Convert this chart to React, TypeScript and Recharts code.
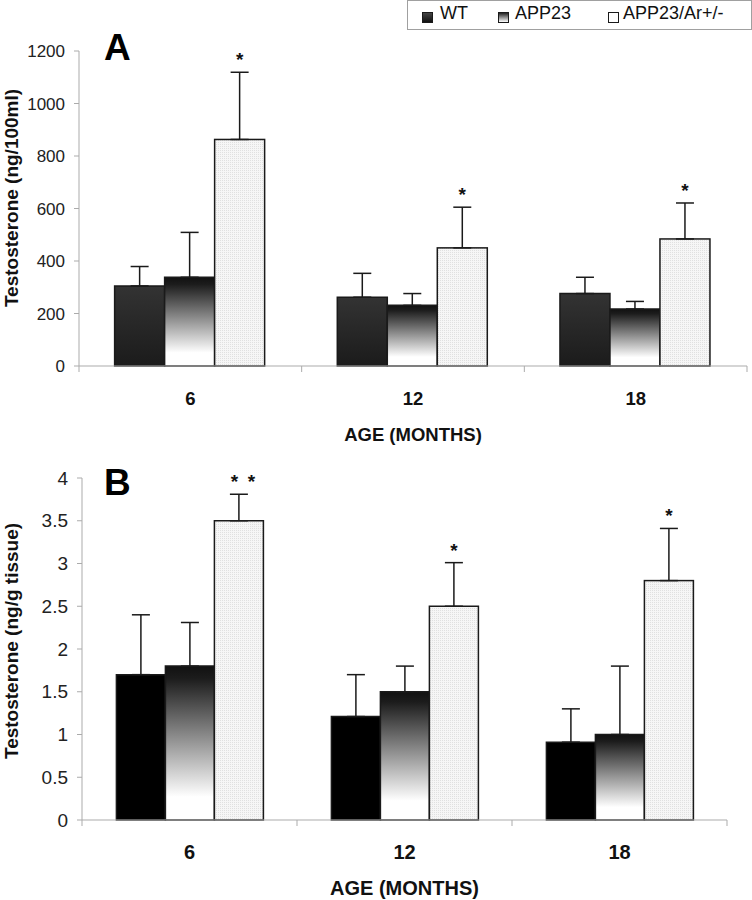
import { BarChart, Bar, XAxis, YAxis, ErrorBar } from "recharts";

const AGES = ["6", "12", "18"];
const GROUPS = ["WT", "APP23", "APP23/Ar+/-"];

// A: serum testosterone (ng/100ml), mean + upper error
const SERUM_WT = [305, 262, 276];
const SERUM_WT_ERR = [74, 91, 62];
const SERUM_APP = [338, 231, 217];
const SERUM_APP_ERR = [171, 45, 29];
const SERUM_AR = [863, 450, 484];
const SERUM_AR_ERR = [256, 155, 137];
const SERUM_STARS = ["*", "*", "*"];
const SERUM_TICKS = [0, 200, 400, 600, 800, 1000, 1200];

// B: testicular testosterone (ng/g tissue)
const TISSUE_WT = [1.7, 1.21, 0.91];
const TISSUE_WT_ERR = [0.7, 0.49, 0.39];
const TISSUE_APP = [1.8, 1.5, 1.0];
const TISSUE_APP_ERR = [0.51, 0.3, 0.8];
const TISSUE_AR = [3.5, 2.5, 2.8];
const TISSUE_AR_ERR = [0.31, 0.51, 0.61];
const TISSUE_STARS = ["**", "*", "*"];
const TISSUE_TICKS = [0, 0.5, 1, 1.5, 2, 2.5, 3, 3.5, 4];

const FONT = "'Liberation Sans', Arial, sans-serif";
const AXIS = "#ababab";
const INK = "#1a1a1a";

const rows = (wt: number[], wtE: number[], app: number[], appE: number[], ar: number[], arE: number[], stars: string[]) =>
  AGES.map((age, i) => ({
    age,
    wt: wt[i], wtErr: wtE[i],
    app: app[i], appErr: appE[i],
    ar: ar[i], arErr: arE[i],
    star: stars[i],
  }));

const serumData = rows(SERUM_WT, SERUM_WT_ERR, SERUM_APP, SERUM_APP_ERR, SERUM_AR, SERUM_AR_ERR, SERUM_STARS);
const tissueData = rows(TISSUE_WT, TISSUE_WT_ERR, TISSUE_APP, TISSUE_APP_ERR, TISSUE_AR, TISSUE_AR_ERR, TISSUE_STARS);

// light stippled bar with the significance stars above its error cap
const ArShape = (props: any) => {
  const { x, y, width, height, payload } = props;
  const perUnit = height / payload.ar;
  const capY = y - payload.arErr * perUnit;
  const stars = payload.star.split("");
  const cx = x + width / 2;
  return (
    <g>
      <rect x={x} y={y} width={width} height={height} fill="url(#stipple)" stroke={INK} strokeWidth={1.5} />
      {stars.map((s: string, i: number) => (
        <text key={i} x={cx + 4 * (stars.length - 1) + (i - (stars.length - 1) / 2) * 17} y={capY - 6}
          textAnchor="middle" fontSize={19} fontWeight="bold" fill="#111" fontFamily={FONT}>
          {s}
        </text>
      ))}
    </g>
  );
};

const AgeTick = (props: any) => {
  const { x, y, payload, index, fontSize, plotWidth } = props;
  const half = payload.offset ?? plotWidth / AGES.length / 2;
  return (
    <g>
      <line x1={x - half} x2={x - half} y1={y} y2={y + 6} stroke={AXIS} />
      {index === AGES.length - 1 && <line x1={x + half} x2={x + half} y1={y} y2={y + 6} stroke={AXIS} />}
      <text x={x} y={y + 32} textAnchor="middle" dominantBaseline="central" fontSize={fontSize}
        fontWeight="bold" fill="#111" fontFamily={FONT}>
        {payload.value}
      </text>
    </g>
  );
};

const YTitle = ({ text, cy }: any) => (
  <text x={11} y={cy} transform={`rotate(-90 11 ${cy})`} textAnchor="middle" dominantBaseline="central"
    fontSize={19} fontWeight="bold" fill="#111" fontFamily={FONT}>
    {text}
  </text>
);

const XTitle = (props: any) => {
  const { viewBox, size } = props;
  return (
    <text x={viewBox.x + viewBox.width / 2} y={viewBox.y + 68} textAnchor="middle" dominantBaseline="central"
      fontSize={size} fontWeight="bold" fill="#111" fontFamily={FONT}>
      AGE (MONTHS)
    </text>
  );
};

function Panel({ data, ticks, yLabel, yLabelY, tickFont, xFont, yWidth, top, right, xHeight, wtFill, letter, letterTop }: any) {
  const plotWidth = 752 - yWidth - right;
  return (
    <div style={{ position: "relative", width: 752, height: 450 }}>
      <BarChart width={752} height={450} data={data} margin={{ top, right, left: 0, bottom: 0 }}
        barCategoryGap="16%" barGap={0}>
        <XAxis dataKey="age" height={xHeight} axisLine={{ stroke: AXIS }} tickLine={false} tickSize={0} tickMargin={0}
          tick={(p: any) => <AgeTick {...p} fontSize={xFont} plotWidth={plotWidth} />}
          label={<XTitle size={xFont} />} />
        <YAxis type="number" width={yWidth} domain={[ticks[0], ticks[ticks.length - 1]]} ticks={ticks} interval={0}
          axisLine={{ stroke: AXIS }} tickLine={{ stroke: AXIS }} tickSize={5} tickMargin={9}
          tick={{ fill: "#222", fontSize: tickFont, fontFamily: FONT }}
          label={<YTitle text={yLabel} cy={yLabelY} />} />
        <Bar dataKey="wt" name={GROUPS[0]} fill={wtFill} stroke={INK} strokeWidth={1.5} isAnimationActive={false}>
          <ErrorBar dataKey={(d: any) => [0, d.wtErr]} width={9} stroke={INK} strokeWidth={1.5} direction="y" />
        </Bar>
        <Bar dataKey="app" name={GROUPS[1]} fill="url(#fade)" stroke={INK} strokeWidth={1.5} isAnimationActive={false}>
          <ErrorBar dataKey={(d: any) => [0, d.appErr]} width={9} stroke={INK} strokeWidth={1.5} direction="y" />
        </Bar>
        <Bar dataKey="ar" name={GROUPS[2]} fill="url(#stipple)" shape={ArShape} isAnimationActive={false}>
          <ErrorBar dataKey={(d: any) => [0, d.arErr]} width={9} stroke={INK} strokeWidth={1.5} direction="y" />
        </Bar>
      </BarChart>
      <div style={{ position: "absolute", left: 104, top: letterTop, fontFamily: FONT, fontWeight: "bold",
        fontSize: 37, lineHeight: "37px", color: "#000" }}>
        {letter}
      </div>
    </div>
  );
}

const Swatch = ({ fill, left }: any) => (
  <div style={{ position: "absolute", left, top: 12, width: 11, height: 11, background: fill,
    border: `1px solid ${INK}`, boxSizing: "border-box" }} />
);

export default function App() {
  const label = { position: "absolute" as const, top: 4, fontSize: 18, lineHeight: "18px", color: "#111" };
  return (
    <div style={{ position: "absolute", left: 0, top: 0, width: 752, height: 900, background: "#fff", fontFamily: FONT }}>
      <svg width={0} height={0} style={{ position: "absolute" }}>
        <defs>
          <linearGradient id="fade" x1="0" y1="0" x2="0" y2="1">
            <stop offset="0" stopColor="#111" />
            <stop offset="0.08" stopColor="#1c1c1c" />
            <stop offset="0.85" stopColor="#fff" />
            <stop offset="1" stopColor="#fff" />
          </linearGradient>
          <linearGradient id="darkA" x1="0" y1="0" x2="0" y2="1">
            <stop offset="0" stopColor="#333" />
            <stop offset="1" stopColor="#1b1b1b" />
          </linearGradient>
          <pattern id="stipple" width="2" height="2" patternUnits="userSpaceOnUse">
            <rect width="2" height="2" fill="#f6f6f6" />
            <rect width="1" height="1" fill="#e0e0e0" />
          </pattern>
        </defs>
      </svg>
      <div style={{ position: "absolute", left: 407, top: 0, width: 345, height: 30, border: "1.5px solid #a0a0a0",
        boxSizing: "border-box", background: "#fff" }} />
      <Swatch fill="linear-gradient(#444, #111)" left={422} />
      <span style={{ ...label, left: 440 }}>{GROUPS[0]}</span>
      <Swatch fill="linear-gradient(#222, #fff)" left={498} />
      <span style={{ ...label, left: 515 }}>{GROUPS[1]}</span>
      <Swatch fill="#fff" left={608} />
      <span style={{ ...label, left: 623 }}>{GROUPS[2]}</span>
      <div style={{ position: "absolute", left: 0, top: 0 }}>
        <Panel data={serumData} ticks={SERUM_TICKS} yLabel="Testosterone (ng/100ml)" yLabelY={198}
          tickFont={17} xFont={18.5} yWidth={79} top={51} right={5} xHeight={84} wtFill="url(#darkA)"
          letter="A" letterTop={29} />
      </div>
      <div style={{ position: "absolute", left: 0, top: 450 }}>
        <Panel data={tissueData} ticks={TISSUE_TICKS} yLabel="Testosterone (ng/g tissue)" yLabelY={191}
          tickFont={19} xFont={20} yWidth={82} top={28} right={25} xHeight={80} wtFill="#000"
          letter="B" letterTop={14} />
      </div>
    </div>
  );
}
